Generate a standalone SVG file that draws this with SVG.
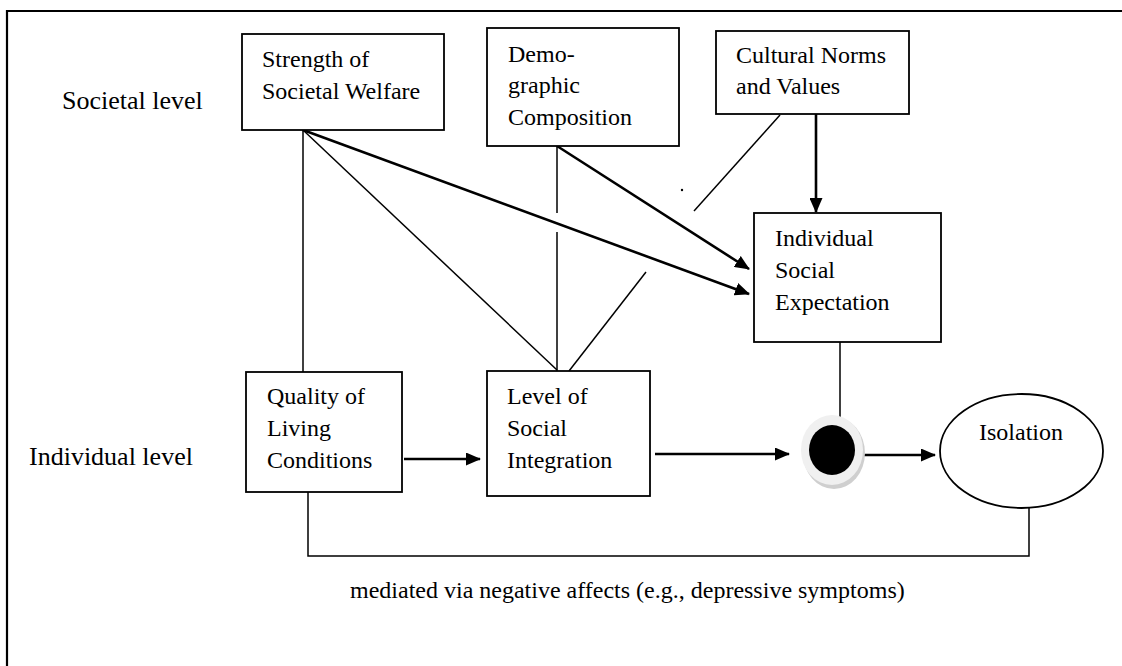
<svg xmlns="http://www.w3.org/2000/svg" width="1122" height="666" viewBox="0 0 1122 666">
<style>
.box{fill:#fff;stroke:#000;stroke-width:1.8}
.t{font-family:"Liberation Serif","Times New Roman",serif;font-size:24px;fill:#000}
.lv{font-family:"Liberation Serif","Times New Roman",serif;font-size:26px;fill:#000}
.thin{stroke:#000;stroke-width:1.5;fill:none}
.thick{stroke:#000;stroke-width:2.6;fill:none}
</style>
<defs>
<marker id="ah" markerWidth="15" markerHeight="13" refX="14" refY="6.5" orient="auto" markerUnits="userSpaceOnUse">
<path d="M0,0 L15,6.5 L0,13 z" fill="#000"/>
</marker>
</defs>
<rect width="1122" height="666" fill="#fff"/>
<path d="M7,666 V11 H1122" fill="none" stroke="#000" stroke-width="2.2"/>
<text class="lv" x="62" y="109">Societal level</text>
<text class="lv" x="29" y="465">Individual level</text>
<g id="connectors">
<line class="thin" x1="303" y1="130" x2="303" y2="372"/>
<line class="thin" x1="303" y1="130" x2="557" y2="370"/>
<line class="thick" x1="303" y1="130" x2="749" y2="294" marker-end="url(#ah)"/>
<line class="thin" x1="557" y1="146" x2="557" y2="213"/>
<line class="thin" x1="557" y1="232" x2="557" y2="371"/>
<line class="thick" x1="557" y1="146" x2="749" y2="269" marker-end="url(#ah)"/>
<line class="thin" x1="780" y1="115" x2="694" y2="211"/>
<line class="thin" x1="646" y1="272" x2="569" y2="371"/>
<line class="thick" x1="816" y1="113" x2="816" y2="212" marker-end="url(#ah)"/>
<line class="thin" x1="840" y1="342" x2="840" y2="417"/>
<line class="thick" x1="404" y1="459" x2="480" y2="459" marker-end="url(#ah)"/>
<line class="thick" x1="655" y1="454" x2="789" y2="454" marker-end="url(#ah)"/>
<line class="thick" x1="864" y1="455" x2="935" y2="455" marker-end="url(#ah)"/>
<path class="thin" d="M308,489 V556 H1029 V508" stroke-width="1.8"/>
<text class="t" x="350" y="598">mediated via negative affects (e.g., depressive symptoms)</text>
<circle cx="682" cy="190" r="1.2" fill="#000"/>
</g>
<g id="strength">
<rect class="box" x="242" y="34" width="202" height="96"/>
<text class="t" x="262" y="67">Strength of</text>
<text class="t" x="262" y="99">Societal Welfare</text>
</g>
<g id="demographic">
<rect class="box" x="487" y="28" width="192" height="118"/>
<text class="t" x="508" y="62">Demo-</text>
<text class="t" x="508" y="93">graphic</text>
<text class="t" x="508" y="125">Composition</text>
</g>
<g id="cultural">
<rect class="box" x="716" y="31" width="193" height="83"/>
<text class="t" x="736" y="63">Cultural Norms</text>
<text class="t" x="736" y="94">and Values</text>
</g>
<g id="expectation">
<rect class="box" x="754" y="213" width="187" height="129"/>
<text class="t" x="775" y="246">Individual</text>
<text class="t" x="775" y="278">Social</text>
<text class="t" x="775" y="310">Expectation</text>
</g>
<g id="quality">
<rect class="box" x="246" y="372" width="156" height="120"/>
<text class="t" x="267" y="404">Quality of</text>
<text class="t" x="267" y="436">Living</text>
<text class="t" x="267" y="468">Conditions</text>
</g>
<g id="integration">
<rect class="box" x="487" y="371" width="163" height="125"/>
<text class="t" x="507" y="404">Level of</text>
<text class="t" x="507" y="436">Social</text>
<text class="t" x="507" y="468">Integration</text>
</g>
<g id="junction">
<ellipse cx="834" cy="453" rx="31" ry="36" fill="#cfcfcf"/>
<ellipse cx="832" cy="450" rx="31" ry="35" fill="#f0f0f0"/>
<ellipse cx="832" cy="450" rx="23" ry="25" fill="#000"/>
</g>
<g id="isolation">
<ellipse cx="1021.5" cy="451" rx="81.5" ry="57" fill="#fff" stroke="#000" stroke-width="1.8"/>
<text class="t" x="1021" y="440" text-anchor="middle">Isolation</text>
</g>
</svg>
